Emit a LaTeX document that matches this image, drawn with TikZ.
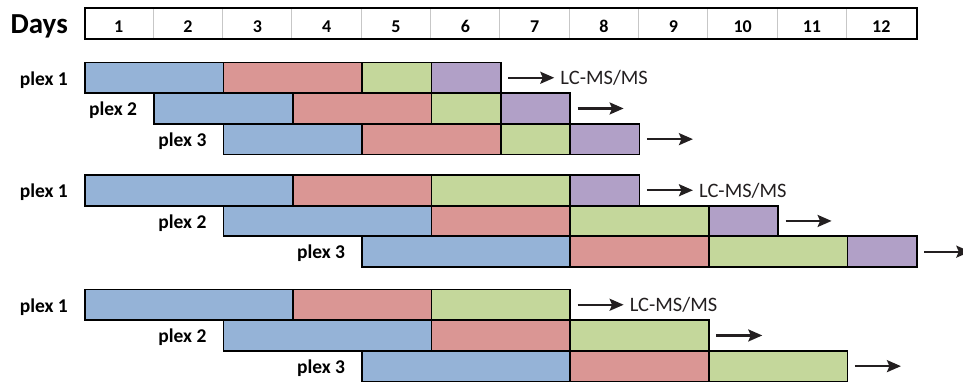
\documentclass[tikz,border=0pt]{standalone}
\usepackage{fontspec}
\setmainfont{Carlito}
\usetikzlibrary{arrows.meta,positioning}

\definecolor{prepblue}{HTML}{95B3D7}
\definecolor{prepred}{HTML}{DA9694}
\definecolor{prepgreen}{HTML}{C4D79B}
\definecolor{preppurple}{HTML}{B1A0C7}
\definecolor{inkgray}{HTML}{231F20}

% one plex row: name, top, label, list of start/end/colour (in days)
\newcommand{\plexrow}[4]{%
    \foreach \s/\e/\c [count=\i] in {#4}{
        \node[seg, fill=\c, minimum width={(\e-\s)*69.33pt}] (#1-\i) at ({84+\s*69.33}, #2) {};
        \xdef\lastseg{#1-\i}
    }
    \node[lbl] (#1-lbl) at ([xshift=-16pt, yshift=-23.5pt]#1-1.north west) {#3};
    \draw[go] ([xshift=6.5pt]\lastseg.east) -- ++(46, 0) coordinate (#1-out);
}

\begin{document}
\begin{tikzpicture}[x=1pt, y=-1pt,
    seg/.style={draw, line width=1.8pt, inner sep=0pt, minimum height=30.7pt, anchor=north west},
    lbl/.style={font=\bfseries\fontsize{19.5}{21}\selectfont, inner sep=0pt, anchor=base east},
    ms/.style={font=\fontsize{20.5}{22}\selectfont, text=inkgray, inner sep=0pt, anchor=base west},
    go/.style={-{Stealth[length=14pt, width=12pt, inset=2.5pt]}, draw=inkgray, line width=2.2pt}]
    \useasboundingbox (0, 0) rectangle (963, 381);

    % day header
    \foreach \d in {1, ..., 11}
        \draw[black!22, line width=1pt] ({84+\d*69.33}, 7.3) -- ++(0, 31);
    \node[draw, line width=1.8pt, inner sep=0pt, minimum width=832pt, minimum height=31pt, anchor=north west] (hdr) at (84, 7.3) {};
    \foreach \d in {1, ..., 12}
        \node[font=\bfseries\fontsize{18}{19}\selectfont, inner sep=0pt, anchor=base] (day\d) at ({84+(\d-0.5)*69.33}, 32.5) {\d};
    \node[font=\bfseries\fontsize{29}{31}\selectfont, inner sep=0pt, anchor=base east] (days) at (68, 33) {Days};

    % first scheme
    \plexrow{a1}{61.5}{plex 1}{0/2/prepblue, 2/4/prepred, 4/5/prepgreen, 5/6/preppurple}
    \plexrow{a2}{92.2}{plex 2}{1/3/prepblue, 3/5/prepred, 5/6/prepgreen, 6/7/preppurple}
    \plexrow{a3}{122.9}{plex 3}{2/4/prepblue, 4/6/prepred, 6/7/prepgreen, 7/8/preppurple}
    \node[ms] (msa) at ([xshift=6pt, yshift=-6.8pt]a1-out) {LC-MS/MS};

    % second scheme
    \plexrow{b1}{174}{plex 1}{0/3/prepblue, 3/5/prepred, 5/7/prepgreen, 7/8/preppurple}
    \plexrow{b2}{204.7}{plex 2}{2/5/prepblue, 5/7/prepred, 7/9/prepgreen, 9/10/preppurple}
    \plexrow{b3}{235.4}{plex 3}{4/7/prepblue, 7/9/prepred, 9/11/prepgreen, 11/12/preppurple}
    \node[ms] (msb) at ([xshift=6pt, yshift=-6.8pt]b1-out) {LC-MS/MS};

    % third scheme
    \plexrow{c1}{288.5}{plex 1}{0/3/prepblue, 3/5/prepred, 5/7/prepgreen}
    \plexrow{c2}{319.2}{plex 2}{2/5/prepblue, 5/7/prepred, 7/9/prepgreen}
    \plexrow{c3}{349.9}{plex 3}{4/7/prepblue, 7/9/prepred, 9/11/prepgreen}
    \node[ms] (msc) at ([xshift=6pt, yshift=-6.8pt]c1-out) {LC-MS/MS};
\end{tikzpicture}
\end{document}
